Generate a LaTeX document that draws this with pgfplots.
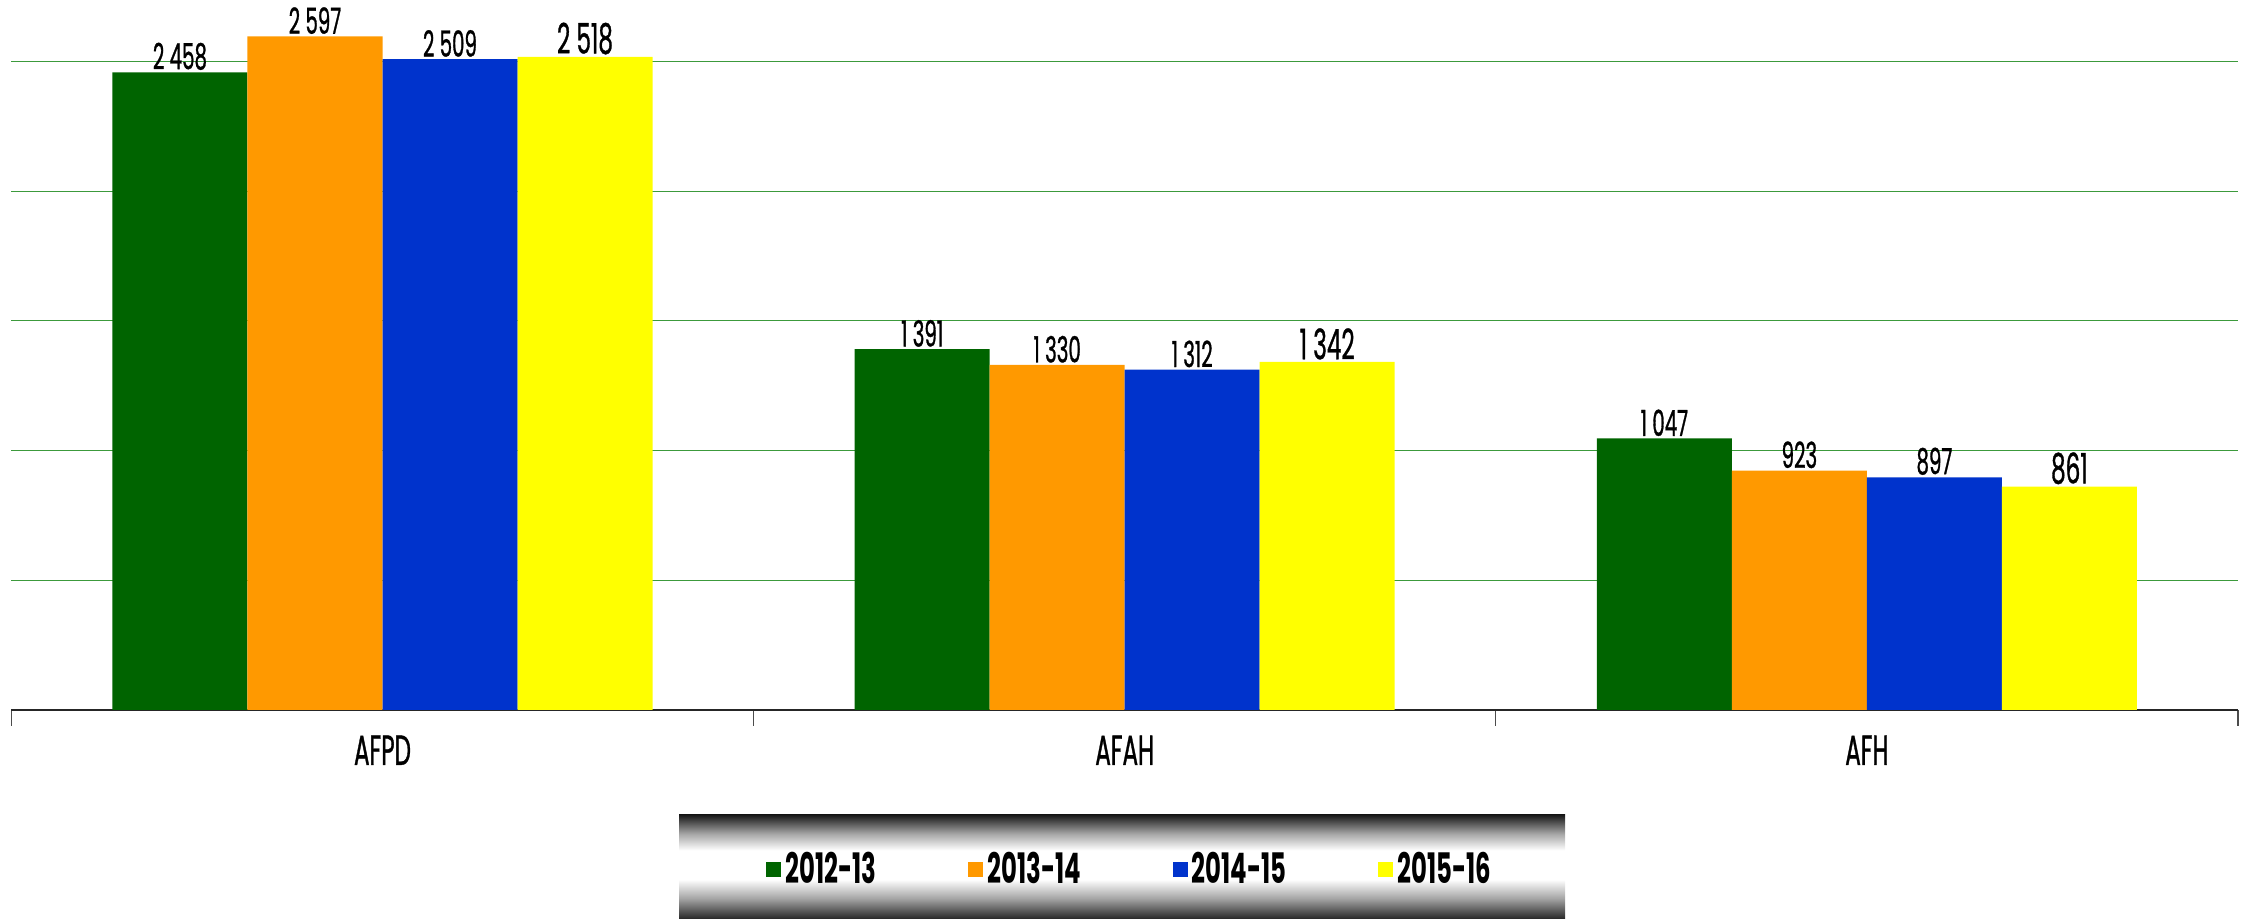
\documentclass[border=0pt]{standalone}
\usepackage{fontspec}
\setmainfont{Poppins}[FakeStretch=0.55, FakeBold=0.8]
\newfontfamily\legfont{Poppins}[FakeStretch=0.58]
\usepackage{pgfplots}
\pgfplotsset{compat=1.18}
\definecolor{cgreen}{HTML}{006400}
\definecolor{corange}{HTML}{FF9900}
\definecolor{cblue}{HTML}{0033CC}
\definecolor{cyellow}{HTML}{FFFF00}
\definecolor{cgrid}{HTML}{3C9A3C}
\pgfdeclareverticalshading{legshade}{100bp}{color(0bp)=(black!85); color(25bp)=(black!85); color(35bp)=(black!35); color(44bp)=(white); color(58bp)=(white); color(66bp)=(black!35); color(75bp)=(black!90); color(100bp)=(black!90)}
\begin{document}
\begin{tikzpicture}
\shade[shading=legshade] (339.5pt,0pt) rectangle (782.5pt,52pt);
\begin{axis}[
  at={(5.7pt,104.5pt)}, anchor=south west,
  scale only axis, width=1113.3pt, height=355pt,
  ybar=0pt, bar width=67.5pt,
  xmin=-0.5, xmax=2.5, ymin=0, ymax=2737,
  separate axis lines,
  axis x line*=bottom, axis y line*=left,
  y axis line style={draw=none},
  x axis line style={black!85, line width=0.8pt, -},
  xtick={0,1,2}, xticklabels={AFPD,AFAH,AFH},
  major x tick style={draw=none},
  minor xtick={-0.5,0.5,1.5,2.5},
  minor x tick style={black!70, line width=0.6pt},
  tick align=outside, minor tick length=8pt,
  ytick={500,1000,...,2500}, yticklabels={},
  major y tick style={draw=none},
  ymajorgrids, major grid style={cgrid, line width=0.6pt},
  x tick label style={font=\fontsize{21}{21}\selectfont, anchor=north, yshift=-5pt},
  nodes near coords,
  /pgf/number format/assume math mode=true,
  every node near coord/.append style={font=\fontsize{18}{18}\selectfont, inner sep=1pt, text=black},
  /pgf/number format/1000 sep={\ },
  legend style={at={(0.5027,-0.224)}, anchor=center, draw=none, fill=none,
    legend columns=4, font=\legfont\bfseries\fontsize{21}{21}\selectfont,
    /tikz/every even column/.append style={column sep=44pt}},
  legend cell align=left,
  legend image code/.code={\fill[#1,draw=none] (0pt,-3.75pt) rectangle (7.5pt,3.75pt);},
]
\addplot[fill=cgreen, draw=none] coordinates {(0,2458) (1,1391) (2,1047)};
\addlegendentry{2012-13}
\addplot[fill=corange, draw=none] coordinates {(0,2597) (1,1330) (2,923)};
\addlegendentry{2013-14}
\addplot[fill=cblue, draw=none] coordinates {(0,2509) (1,1312) (2,897)};
\addlegendentry{2014-15}
\addplot[fill=cyellow, draw=none, every node near coord/.append style={font=\fontsize{21}{21}\selectfont}] coordinates {(0,2518) (1,1342) (2,861)};
\addlegendentry{2015-16}
\end{axis}
\pgfresetboundingbox
\path[use as bounding box] (0pt,0pt) rectangle (1120.5pt,459.5pt);
\end{tikzpicture}
\end{document}
